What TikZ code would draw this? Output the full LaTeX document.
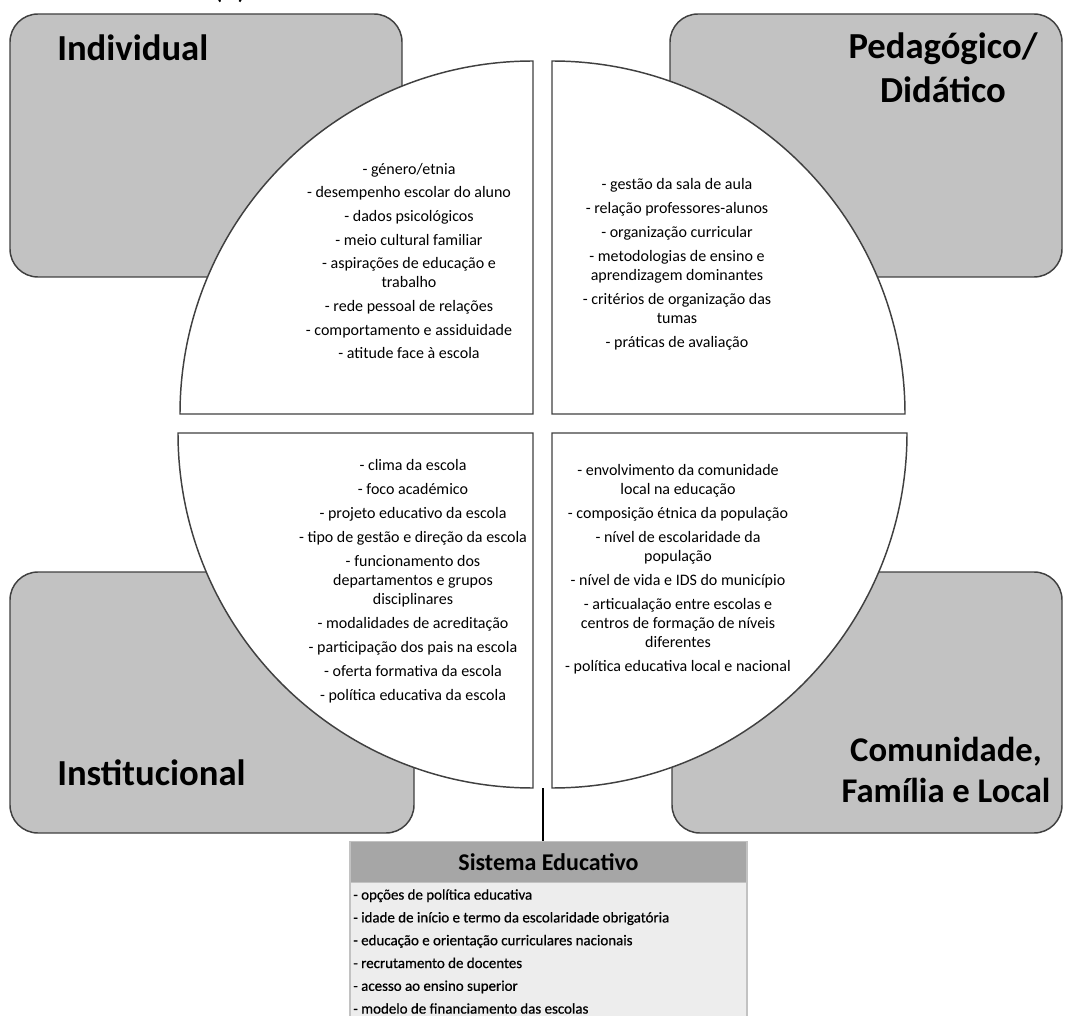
\documentclass[tikz,border=0pt]{standalone}
\usepackage{fontspec}
\setmainfont{Carlito}
\newfontfamily\boldish[FakeBold=0.6]{Carlito}
\definecolor{boxgray}{HTML}{C2C2C2}
\definecolor{lineg}{HTML}{404040}
\definecolor{headgray}{HTML}{A6A6A6}
\definecolor{bodygray}{HTML}{EDEDED}
\definecolor{bodyline}{HTML}{C2C2C2}
\tikzset{
  graybox/.style={draw=lineg, fill=boxgray, line width=1.1pt, rounded corners=21pt},
  quad/.style={draw=lineg, fill=white, line width=1.1pt},
  qtext/.style={font=\fontsize{12}{14.25}\selectfont, align=center, inner sep=0pt},
  ttl/.style={font=\bfseries\fontsize{27.5}{33}\selectfont, inner sep=0pt},
  conn/.style={draw=black, line width=1.3pt},
}
\begin{document}
\begin{tikzpicture}[x=0.75pt,y=0.75pt]
\useasboundingbox (0,0) rectangle (1065,-1016);
% cut caption at top
\node[font=\fontsize{23}{26}\selectfont, anchor=base, inner sep=0pt] (cap) at (230,1.5) {(a)};
% gray boxes
\draw[graybox] (10,-14) rectangle (402,-277);
\draw[graybox] (670,-14) rectangle (1062,-277);
\draw[graybox] (10,-572) rectangle (414,-833);
\draw[graybox] (672,-572) rectangle (1062,-833);
% titles
\node[ttl, anchor=base west] (tind) at (57,-61) {Individual};
\node[ttl, anchor=north, align=center] (tped) at (943,-33) {Pedagógico/\\Didático};
\node[ttl, anchor=base west] (tinst) at (57,-785) {Institucional};
\node[ttl, font=\bfseries\fontsize{26}{31}\selectfont, anchor=north, align=center] (tcom) at (946,-737) {Comunidade,\\Família e Local};
% quadrants
\draw[quad] (533,-414) -- (180,-414) arc[start angle=180, end angle=90, radius=353] -- cycle;
\draw[quad] (552,-414) -- (552,-61) arc[start angle=90, end angle=0, radius=353] -- cycle;
\draw[quad] (533,-433) -- (533,-788) arc[start angle=270, end angle=180, radius=355] -- cycle;
\draw[quad] (552,-433) -- (907,-433) arc[start angle=0, end angle=-90, radius=355] -- cycle;
% quadrant texts
\node[qtext] (qtl) at (409,-261) {- género/etnia\\[3.5pt]
- desempenho escolar do aluno\\[3.5pt]
- dados psicológicos\\[3.5pt]
- meio cultural familiar\\[3.5pt]
- aspirações de educação e\\trabalho\\[3.5pt]
- rede pessoal de relações\\[3.5pt]
- comportamento e assiduidade\\[3.5pt]
- atitude face à escola};
\node[qtext] (qtr) at (677,-264) {- gestão da sala de aula\\[3.75pt]
- relação professores-alunos\\[3.75pt]
- organização curricular\\[3.75pt]
- metodologias de ensino e\\aprendizagem dominantes\\[3.75pt]
- critérios de organização das\\tumas\\[3.75pt]
- práticas de avaliação};
\node[qtext] (qbl) at (413,-581) {- clima da escola\\[3.75pt]
- foco académico\\[3.75pt]
- projeto educativo da escola\\[3.75pt]
- tipo de gestão e direção da escola\\[3.75pt]
- funcionamento dos\\departamentos e grupos\\disciplinares\\[3.75pt]
- modalidades de acreditação\\[3.75pt]
- participação dos pais na escola\\[3.75pt]
- oferta formativa da escola\\[3.75pt]
- política educativa da escola};
\node[qtext] (qbr) at (678,-569) {- envolvimento da comunidade\\local na educação\\[3.75pt]
- composição étnica da população\\[3.75pt]
- nível de escolaridade da\\população\\[3.75pt]
- nível de vida e IDS do município\\[3.75pt]
- articualação entre escolas e\\centros de formação de níveis\\diferentes\\[3.75pt]
- política educativa local e nacional};
% sistema educativo
\node[draw=bodyline, fill=bodygray, line width=0.8pt, anchor=north, minimum width=297.75pt, minimum height=112pt, inner sep=0pt] (sebody) at (548.5,-882) {};
\node[draw=bodyline, fill=headgray, line width=0.8pt, anchor=north, minimum width=297.75pt, minimum height=30.75pt, inner sep=0pt, font=\bfseries\fontsize{18}{21}\selectfont] (se) at (548.5,-841) {Sistema Educativo};
\node[anchor=north west, align=left, inner sep=0pt, font=\boldish\fontsize{11.2}{17.1}\selectfont] (setext) at (353,-889) {- opções de política educativa\\
- idade de início e termo da escolaridade obrigatória\\
- educação e orientação curriculares nacionais\\
- recrutamento de docentes\\
- acesso ao ensino superior\\
- modelo de financiamento das escolas};
\coordinate (gap) at (543,-788);
\draw[conn] (gap) -- (gap |- se.north);
\end{tikzpicture}
\end{document}
